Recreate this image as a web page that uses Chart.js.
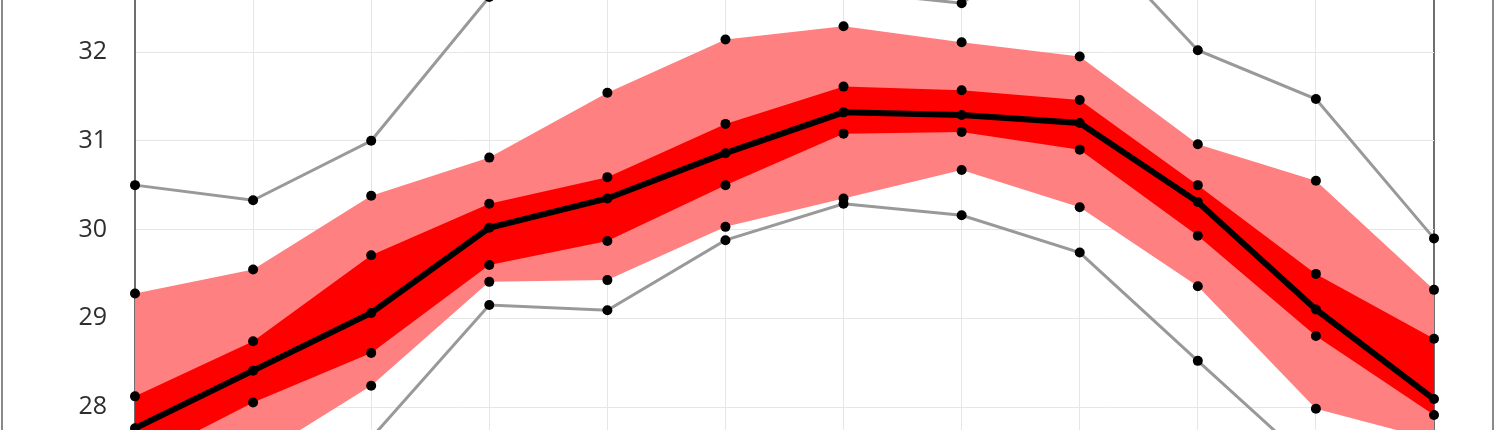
<!DOCTYPE html>
<html>
<head>
<meta charset="utf-8">
<script src="https://cdn.jsdelivr.net/npm/chart.js@4"></script>
<style>
  body { margin: 0; background: #fff; }
  #wrap { position: relative; width: 1500px; height: 430px; }
  #frame { position: absolute; left: 1px; top: 0; width: 1489px; height: 430px;
           border-left: 2px solid #8a8a8a; border-right: 2px solid #8a8a8a; box-sizing: content-box; }
  canvas { position: absolute; left: 0; top: 0; }
</style>
</head>
<body>
<div id="wrap">
  <div id="frame"></div>
  <canvas id="chart" width="1500" height="430"></canvas>
</div>
<script>
// months along the x axis
const months = ['Jan', 'Feb', 'Mar', 'Apr', 'May', 'Jun', 'Jul', 'Aug', 'Sep', 'Oct', 'Nov', 'Dec'];

// percentiles (some fall outside the visible window)
const maxVals = [30.50, 30.33, 31.00, 32.62, 33.20, 33.50, 32.69, 32.55, 33.44, 32.02, 31.47, 29.90];
const p90Vals = [29.28, 29.55, 30.38, 30.81, 31.54, 32.14, 32.29, 32.11, 31.95, 30.96, 30.55, 29.32];
const p75Vals = [28.12, 28.74, 29.71, 30.29, 30.59, 31.19, 31.61, 31.57, 31.46, 30.50, 29.50, 28.77];
const medianVals = [27.76, 28.41, 29.06, 30.02, 30.35, 30.86, 31.32, 31.29, 31.20, 30.31, 29.10, 28.09];
const p25Vals = [27.37, 28.05, 28.61, 29.60, 29.87, 30.50, 31.08, 31.10, 30.90, 29.93, 28.80, 27.91];
const p10Vals = [26.90, 27.41, 28.24, 29.41, 29.43, 30.03, 30.35, 30.67, 30.25, 29.36, 27.98, 27.63];
const minVals = [26.40, 26.90, 27.65, 29.15, 29.09, 29.88, 30.29, 30.16, 29.74, 28.52, 27.31, 26.90];

const yMin = 27.741;
const yMax = 32.586;

const dot = { pointRadius: 5, pointHoverRadius: 5, pointBackgroundColor: '#000', pointBorderWidth: 0 };

const ctx = document.getElementById('chart').getContext('2d');
new Chart(ctx, {
    type: 'line',
    data: {
        labels: months,
        datasets: [
            { label: 'max', data: maxVals, borderColor: '#999999', borderWidth: 3, fill: false, order: 5, ...dot },
            { label: 'p90', data: p90Vals, borderWidth: 0, borderColor: 'rgba(0,0,0,0)',
              fill: { target: 5 }, backgroundColor: '#ff8080', order: 3, ...dot },
            { label: 'p75', data: p75Vals, borderWidth: 0, borderColor: 'rgba(0,0,0,0)',
              fill: { target: 4 }, backgroundColor: '#ff0000', order: 1, ...dot },
            { label: 'median', data: medianVals, borderColor: '#000000', borderWidth: 6, fill: false, order: 0, ...dot },
            { label: 'p25', data: p25Vals, borderWidth: 0, borderColor: 'rgba(0,0,0,0)', fill: false, order: 2, ...dot },
            { label: 'p10', data: p10Vals, borderWidth: 0, borderColor: 'rgba(0,0,0,0)', fill: false, order: 4, ...dot },
            { label: 'min', data: minVals, borderColor: '#999999', borderWidth: 3, fill: false, order: 6, ...dot }
        ]
    },
    options: {
        responsive: false,
        animation: false,
        devicePixelRatio: 1,
        clip: false,
        elements: { line: { tension: 0 } },
        layout: { autoPadding: false, padding: { left: 0, right: 66, top: 0, bottom: 0 } },
        plugins: {
            legend: { display: false },
            tooltip: { enabled: false },
            filler: { drawTime: 'beforeDatasetsDraw' }
        },
        scales: {
            x: {
                offset: false,
                ticks: { display: false },
                border: { display: false },
                grid: {
                    drawTicks: false,
                    color: c => (c.index === 11 ? '#6e6e6e' : '#e6e6e6'),
                    lineWidth: c => (c.index === 11 ? 2 : 1)
                },
                afterFit: scale => {
                    scale.height = 0;
                    scale.paddingLeft = 0;
                    scale.paddingRight = 0;
                }
            },
            y: {
                min: yMin,
                max: yMax,
                ticks: {
                    stepSize: 1,
                    includeBounds: false,
                    padding: 28,
                    color: '#2e2e2e',
                    font: { family: 'Open Sans', size: 25 }
                },
                border: { display: true, color: '#6e6e6e', width: 2 },
                grid: { drawTicks: false, color: '#e6e6e6', lineWidth: 1 },
                afterFit: scale => {
                    scale.width = 135;
                    scale.paddingTop = 0;
                    scale.paddingBottom = 0;
                }
            }
        }
    }
});
</script>
</body>
</html>
